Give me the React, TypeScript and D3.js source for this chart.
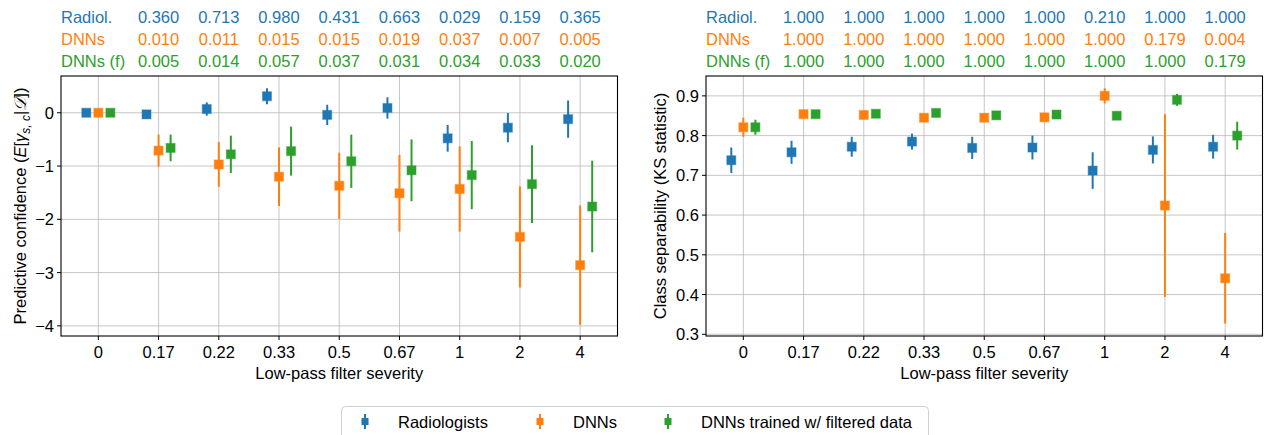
import React from "react";
import * as d3 from "d3";

// severity levels on the x axis
const severity = ["0", "0.17", "0.22", "0.33", "0.5", "0.67", "1", "2", "4"];

// p-values printed above the panels (one per non-zero severity)
const pLeftRadiol = ["0.360", "0.713", "0.980", "0.431", "0.663", "0.029", "0.159", "0.365"];
const pLeftDnn = ["0.010", "0.011", "0.015", "0.015", "0.019", "0.037", "0.007", "0.005"];
const pLeftDnnF = ["0.005", "0.014", "0.057", "0.037", "0.031", "0.034", "0.033", "0.020"];
const pRightRadiol = ["1.000", "1.000", "1.000", "1.000", "1.000", "0.210", "1.000", "1.000"];
const pRightDnn = ["1.000", "1.000", "1.000", "1.000", "1.000", "1.000", "0.179", "0.004"];
const pRightDnnF = ["1.000", "1.000", "1.000", "1.000", "1.000", "1.000", "1.000", "0.179"];

// predictive confidence (left)
const confRad = [0, -0.03, 0.07, 0.31, -0.04, 0.09, -0.48, -0.28, -0.12];
const confRadErr = [0.02, 0.08, 0.125, 0.15, 0.19, 0.2, 0.25, 0.275, 0.35];
const confDnn = [0, -0.71, -0.97, -1.2, -1.37, -1.51, -1.43, -2.33, -2.86];
const confDnnErr = [0, 0.3, 0.42, 0.55, 0.62, 0.72, 0.8, 0.95, 1.12];
const confDnnF = [0, -0.66, -0.78, -0.72, -0.91, -1.08, -1.17, -1.34, -1.76];
const confDnnFErr = [0, 0.25, 0.35, 0.46, 0.5, 0.58, 0.64, 0.73, 0.86];

// class separability, KS statistic (right)
const ksRad = [0.738, 0.758, 0.772, 0.785, 0.769, 0.77, 0.712, 0.764, 0.772];
const ksRadErr = [0.032, 0.029, 0.025, 0.02, 0.028, 0.03, 0.046, 0.034, 0.03];
const ksDnn = [0.821, 0.854, 0.852, 0.845, 0.845, 0.846, 0.9, 0.624, 0.441];
const ksDnnErr = [0.024, 0.004, 0.004, 0.004, 0.004, 0.004, 0.019, 0.23, 0.114];
const ksDnnF = [0.821, 0.854, 0.855, 0.857, 0.851, 0.853, 0.85, 0.89, 0.8];
const ksDnnFErr = [0.019, 0.003, 0.003, 0.003, 0.003, 0.003, 0.003, 0.015, 0.035];

const leftTicks = [0, -1, -2, -3, -4];
const rightTicks = [0.3, 0.4, 0.5, 0.6, 0.7, 0.8, 0.9];

const blue = "#1f77b4";
const orange = "#ff7f0e";
const green = "#2ca02c";
const font = "'Liberation Sans', Arial, Helvetica, sans-serif";
const fs = 16.5;

const W = 1272, H = 435;
const top = 76, bottom = 336;

type Series = { vals: number[]; errs: number[]; color: string; off: number };

const Panel = ({ x0, x1, yDomain, yTicks, fmt, series, rows, ylabel, ylabelX }: any) => {
  const x = d3.scaleLinear().domain([-0.62, 8.62]).range([x0, x1]);
  const y = d3.scaleLinear().domain(yDomain).range([bottom, top]);
  const rowNames = ["Radiol.", "DNNs", "DNNs (f)"];
  const rowColors = [blue, orange, green];
  return (
    <g fontFamily={font} fontSize={fs}>
      {/* grid */}
      {severity.map((s, i) => (
        <line key={"gx" + i} x1={x(i)} x2={x(i)} y1={top} y2={bottom} stroke="#b0b0b0" strokeWidth={1} opacity={0.7} />
      ))}
      {yTicks.map((t: number, i: number) => (
        <line key={"gy" + i} x1={x0} x2={x1} y1={y(t)} y2={y(t)} stroke="#b0b0b0" strokeWidth={1} opacity={0.7} />
      ))}
      {/* error bars + markers */}
      {series.map((se: Series, k: number) => (
        <g key={"s" + k}>
          {se.vals.map((v, i) => (
            <g key={i}>
              <line x1={x(i + se.off)} x2={x(i + se.off)} y1={y(v - se.errs[i])} y2={y(v + se.errs[i])} stroke={se.color} strokeWidth={2} />
              <rect x={x(i + se.off) - 4.5} y={y(v) - 4.5} width={9} height={9} fill={se.color} stroke={se.color} strokeOpacity={0.4} strokeWidth={1.2} />
            </g>
          ))}
        </g>
      ))}
      {/* frame */}
      <rect x={x0} y={top} width={x1 - x0} height={bottom - top} fill="none" stroke="#000" strokeWidth={1.1} />
      {/* x ticks */}
      {severity.map((s, i) => (
        <g key={"xt" + i}>
          <line x1={x(i)} x2={x(i)} y1={bottom} y2={bottom + 4} stroke="#000" />
          <text x={x(i)} y={bottom + 22} textAnchor="middle">{s}</text>
        </g>
      ))}
      <text x={(x0 + x1) / 2} y={bottom + 43} textAnchor="middle">Low-pass filter severity</text>
      {/* y ticks */}
      {yTicks.map((t: number, i: number) => (
        <g key={"yt" + i}>
          <line x1={x0 - 4} x2={x0} y1={y(t)} y2={y(t)} stroke="#000" />
          <text x={x0 - 7} y={y(t) + 6} textAnchor="end">{fmt(t)}</text>
        </g>
      ))}
      <text transform={`translate(${ylabelX},${(top + bottom) / 2}) rotate(-90)`} textAnchor="middle">{ylabel}</text>
      {/* p-value rows */}
      {rows.map((row: string[], r: number) => (
        <g key={"r" + r} fill={rowColors[r]}>
          <text x={x0} y={23 + r * 22}>{rowNames[r]}</text>
          {row.map((p, i) => (
            <text key={i} x={x(i + 1)} y={23 + r * 22} textAnchor="middle">{p}</text>
          ))}
        </g>
      ))}
    </g>
  );
};

const LegendItem = ({ cx, color, label }: any) => (
  <g>
    <line x1={cx} x2={cx} y1={414} y2={429} stroke={color} strokeWidth={2} />
    <rect x={cx - 3.5} y={418} width={7} height={7} fill={color} />
    <text x={cx + 33} y={428}>{label}</text>
  </g>
);

export default function App() {
  const leftLabel = (
    <>
      Predictive confidence (<tspan fontStyle="italic">E</tspan>[<tspan fontStyle="italic">γ</tspan>
      <tspan fontSize={12} dy={4} fontStyle="italic">s, c</tspan>
      <tspan dy={-4}>|</tspan><tspan fontStyle="italic">𝒟</tspan>])
    </>
  );
  return (
    <div style={{ position: "absolute", left: 0, top: 0 }}>
      <svg width={W} height={H} viewBox={`0 0 ${W} ${H}`} style={{ display: "block", background: "#fff" }}>
        <Panel
          x0={61} x1={617.5}
          yDomain={[-4.19, 0.69]} yTicks={leftTicks}
          fmt={(t: number) => (t < 0 ? "\u2212" + Math.abs(t) : String(t))}
          series={[
            { vals: confRad, errs: confRadErr, color: blue, off: -0.2 },
            { vals: confDnn, errs: confDnnErr, color: orange, off: 0 },
            { vals: confDnnF, errs: confDnnFErr, color: green, off: 0.2 },
          ]}
          rows={[pLeftRadiol, pLeftDnn, pLeftDnnF]}
          ylabel={leftLabel} ylabelX={26}
        />
        <Panel
          x0={706} x1={1262.5}
          yDomain={[0.2957, 0.95]} yTicks={rightTicks}
          fmt={(t: number) => t.toFixed(1)}
          series={[
            { vals: ksRad, errs: ksRadErr, color: blue, off: -0.2 },
            { vals: ksDnn, errs: ksDnnErr, color: orange, off: 0 },
            { vals: ksDnnF, errs: ksDnnFErr, color: green, off: 0.2 },
          ]}
          rows={[pRightRadiol, pRightDnn, pRightDnnF]}
          ylabel="Class separability (KS statistic)" ylabelX={666}
        />
        <g fontFamily={font} fontSize={fs}>
          <rect x={341.5} y={406.5} width={587} height={40} rx={4} fill="#fff" stroke="#d0d0d0" />
          <LegendItem cx={365} color={blue} label="Radiologists" />
          <LegendItem cx={540} color={orange} label="DNNs" />
          <LegendItem cx={668} color={green} label="DNNs trained w/ filtered data" />
        </g>
      </svg>
    </div>
  );
}
